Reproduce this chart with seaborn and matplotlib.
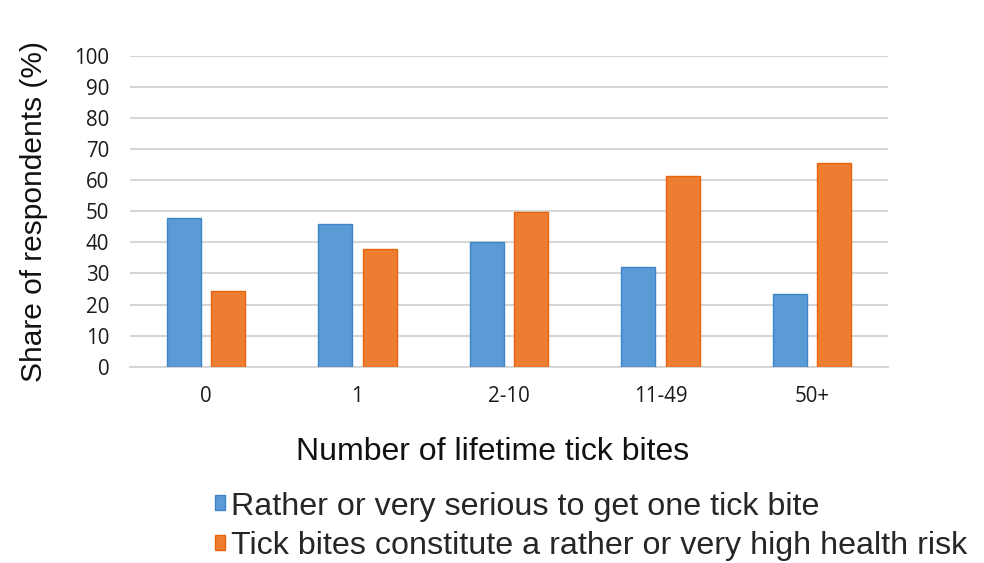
import numpy as np
import pandas as pd
import seaborn as sns
import matplotlib.pyplot as plt
from matplotlib.patches import Patch

# values
categories = ['0', '1', '2-10', '11-49', '50+']
serious_one_bite = [48, 46, 40, 32, 23.5]
high_health_risk = [24.5, 38, 49.7, 61.4, 65.6]
series = ['Rather or very serious to get one tick bite',
          'Tick bites constitute a rather or very high health risk']
yticks = list(range(0, 101, 10))

colors = ['#5B9BD5', '#ED7D31']
edges = ['#3f83c8', '#e8640c']

df = pd.DataFrame({
    'bites': categories * 2,
    'share': serious_one_bite + high_health_risk,
    'series': [series[0]] * len(categories) + [series[1]] * len(categories),
})

sns.set_theme(style='white')
plt.rcParams['font.family'] = ['Liberation Sans', 'DejaVu Sans']

fig = plt.figure(figsize=(9.84, 5.63), dpi=100)
ax = fig.add_axes([130/984, 1-366.7/563, 758/984, (366.7-56)/563])

sns.barplot(data=df, x='bites', y='share', hue='series', palette=colors,
            saturation=1, width=0.586, gap=0.234, ax=ax, legend=False, zorder=3)
for cont, ec in zip(ax.containers, edges):
    for bar in cont:
        bar.set_edgecolor(ec)
        bar.set_linewidth(1.0)

ax.set_ylim(0, 100)
ax.set_xlim(-0.5, len(categories) - 0.5)
ax.set_yticks(yticks)
ax.yaxis.grid(True, color='#d6d6d6', linewidth=1.5, zorder=0)
ax.set_axisbelow(True)
for s in ['top', 'right', 'left']:
    ax.spines[s].set_visible(False)
ax.spines['bottom'].set_color('#d6d6d6')
ax.spines['bottom'].set_linewidth(1.5)
ax.tick_params(axis='both', length=0, labelsize=14.8, colors='#1a1a1a')
ax.tick_params(axis='y', pad=15)
ax.tick_params(axis='x', pad=14)
for lab in ax.get_xticklabels() + ax.get_yticklabels():
    lab.set_family(['Open Sans', 'DejaVu Sans'])

ax.set_ylabel('Share of respondents (%)', fontsize=21.5, color='#111111')
ax.yaxis.set_label_coords(-0.108, 0.5)
ax.set_xlabel('Number of lifetime tick bites', fontsize=23, color='#111111')
ax.xaxis.set_label_coords(0.478, -0.226)

handles = [Patch(facecolor=c, edgecolor=e) for c, e in zip(colors, edges)]
fig.legend(handles, series, loc='upper left', bbox_to_anchor=(215/984, 1-491.5/563),
           frameon=False, fontsize=23.2, handlelength=0.32, handleheight=0.34,
           handletextpad=0.18, labelspacing=0.3, borderpad=0, borderaxespad=0)

fig.savefig('out.png', dpi=100)
